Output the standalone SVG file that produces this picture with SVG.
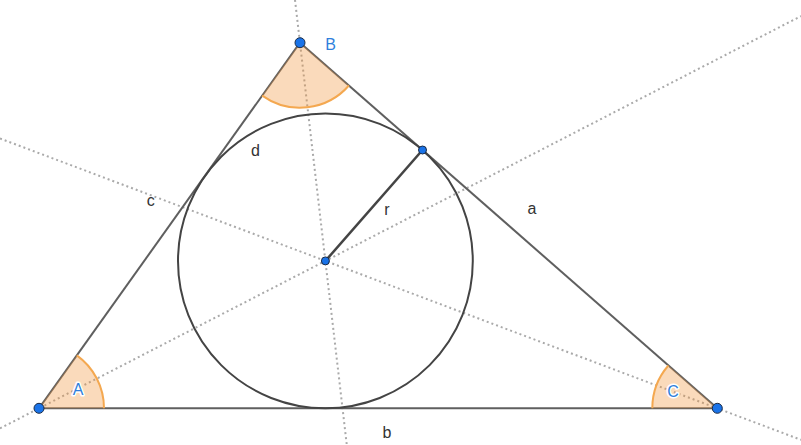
<svg xmlns="http://www.w3.org/2000/svg" width="801" height="445" viewBox="0 0 801 445">
<style>
.bis{stroke:#aaaaaa;stroke-width:2;stroke-dasharray:2 3;fill:none}
.side{stroke:#5f5f5f;stroke-width:2;fill:none}
.ang{fill:#F0963C;fill-opacity:0.35;stroke:none}
.arc{fill:none;stroke:#F4A850;stroke-width:2}
.pt{fill:#1a73e8;stroke:#1b2b45;stroke-width:1}
.lbl{font-family:"Liberation Sans",Arial,sans-serif;font-size:16px;fill:#333333}
.vl{font-family:"Liberation Sans",Arial,sans-serif;font-size:16px;fill:#2f7fdc}
.halo{stroke:#ffffff;stroke-width:3;paint-order:stroke;stroke-linejoin:round}
</style>
<rect width="801" height="445" fill="#ffffff"/>
<g id="connectors">
<line class="bis" x1="0" y1="428.4" x2="801" y2="16.1"/>
<line class="bis" x1="295" y1="0" x2="346.8" y2="445"/>
<line class="bis" x1="0" y1="138.5" x2="801" y2="439.8"/>
<line id="side-c" class="side" x1="39" y1="408.3" x2="300" y2="42.7"/>
<line id="side-a" class="side" x1="300" y1="42.7" x2="717.3" y2="408.3"/>
<line id="side-b" class="side" x1="39" y1="408.3" x2="717.3" y2="408.3"/>
<line id="radius" x1="325.4" y1="260.9" x2="422.5" y2="150" stroke="#444444" stroke-width="2.5"/>
</g>
<g id="incircle">
<circle cx="325.4" cy="260.9" r="147.4" fill="none" stroke="#444444" stroke-width="2"/>
</g>
<g id="angle-A">
<path class="ang" d="M39,408.3 L104,408.3 A65,65 0 0 0 76.8,355.4 Z"/>
<path class="arc" d="M104,408.3 A65,65 0 0 0 76.8,355.4"/>
<text class="vl halo" x="78" y="395" text-anchor="middle">A</text>
</g>
<g id="angle-B">
<path class="ang" d="M300,42.7 L262.2,95.6 A65,65 0 0 0 348.9,85.5 Z"/>
<path class="arc" d="M262.2,95.6 A65,65 0 0 0 348.9,85.5"/>
</g>
<g id="angle-C">
<path class="ang" d="M717.3,408.3 L668.4,365.5 A65,65 0 0 0 652.3,408.3 Z"/>
<path class="arc" d="M668.4,365.5 A65,65 0 0 0 652.3,408.3"/>
<text class="vl halo" x="673" y="397" text-anchor="middle">C</text>
</g>
<g id="point-A"><circle class="pt" cx="39" cy="408.3" r="5"/></g>
<g id="point-B"><circle class="pt" cx="300" cy="42.7" r="5"/><text class="vl" x="330.5" y="50" text-anchor="middle">B</text></g>
<g id="point-C"><circle class="pt" cx="717.3" cy="408.3" r="5"/></g>
<g id="point-I"><circle class="pt" cx="325.4" cy="260.9" r="4"/></g>
<g id="point-T"><circle class="pt" cx="422.5" cy="150" r="4"/></g>
<g id="labels">
<text class="lbl" x="255.5" y="156" text-anchor="middle">d</text>
<text class="lbl" x="150.7" y="206" text-anchor="middle">c</text>
<text class="lbl" x="387" y="215" text-anchor="middle">r</text>
<text class="lbl" x="532" y="214" text-anchor="middle">a</text>
<text class="lbl" x="387" y="438" text-anchor="middle">b</text>
</g>
</svg>
